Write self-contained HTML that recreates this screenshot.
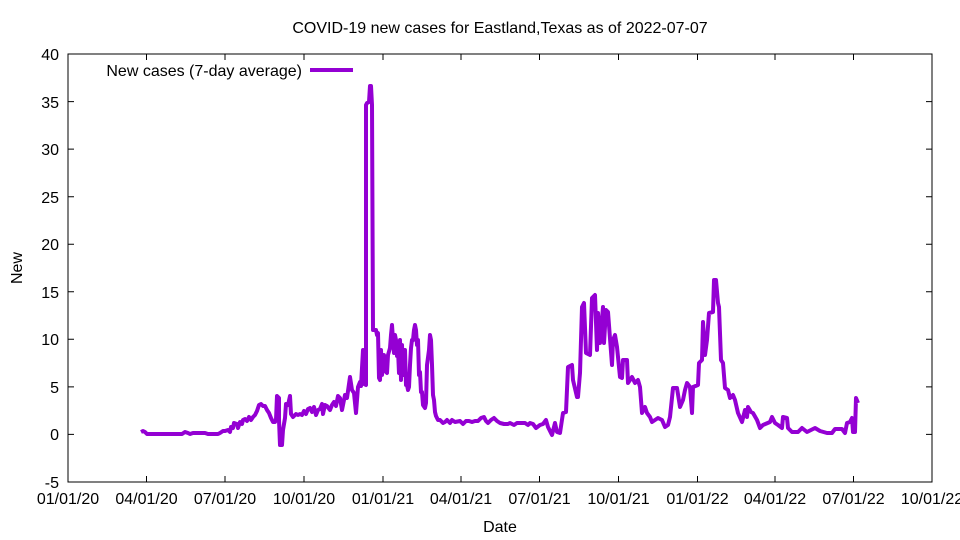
<!DOCTYPE html>
<html><head><meta charset="utf-8"><style>body{margin:0;background:#fff}svg{display:block}text{font-family:"Liberation Sans",sans-serif;font-size:16px;fill:#000}</style></head><body>
<svg width="960" height="540" viewBox="0 0 960 540">
<rect x="68" y="54" width="864" height="428" fill="none" stroke="#000" stroke-width="1"/>
<g stroke="#000" stroke-width="1">
<path d="M68 482h6M68 434.4h6M68 386.9h6M68 339.3h6M68 291.8h6M68 244.2h6M68 196.7h6M68 149.1h6M68 101.6h6M68 54h6"/>
<path d="M932 482h-6M932 434.4h-6M932 386.9h-6M932 339.3h-6M932 291.8h-6M932 244.2h-6M932 196.7h-6M932 149.1h-6M932 101.6h-6"/>
<path d="M146.5 482v-6M225 482v-6M304 482v-6M383 482v-6M461 482v-6M539.5 482v-6M618.5 482v-6M697.5 482v-6M775 482v-6M853.5 482v-6"/>
<path d="M146.5 54v6M225 54v6M304 54v6M383 54v6M461 54v6M539.5 54v6M618.5 54v6M697.5 54v6M775 54v6M853.5 54v6"/>
</g>
<g text-anchor="end">
<text x="59" y="488">-5</text><text x="59" y="440">0</text><text x="59" y="393">5</text><text x="59" y="345">10</text><text x="59" y="298">15</text><text x="59" y="250">20</text><text x="59" y="203">25</text><text x="59" y="155">30</text><text x="59" y="108">35</text><text x="59" y="60">40</text>
</g>
<g text-anchor="middle">
<text x="68" y="504">01/01/20</text><text x="146.5" y="504">04/01/20</text><text x="225" y="504">07/01/20</text><text x="304" y="504">10/01/20</text><text x="383" y="504">01/01/21</text><text x="461" y="504">04/01/21</text><text x="539.5" y="504">07/01/21</text><text x="618.5" y="504">10/01/21</text><text x="697.5" y="504">01/01/22</text><text x="775" y="504">04/01/22</text><text x="853.5" y="504">07/01/22</text><text x="932" y="504">10/01/22</text>
<text x="500" y="532">Date</text>
<text x="500" y="33">COVID-19 new cases for Eastland,Texas as of 2022-07-07</text>
</g>
<text x="22" y="268" text-anchor="middle" transform="rotate(-90 22 268)">New</text>
<text x="302" y="76" text-anchor="end">New cases (7-day average)</text>
<g fill="none" stroke="#9400d3" stroke-width="4" stroke-linejoin="round">
<path d="M310 70H353"/>
<polyline points="141,432 143,431 145,432 147,434 150,434 182,434 185,432 188,433 190,434 193,433 205,433 208,434 218,434 220,433 223,431 225,431 228,430 230,432 231,427 233,428 234,423 237,424 238,428 240,422 242,424 243,420 245,419 247,421 249,417 251,420 253,417 255,415 257,411 259,405 261,404 263,406 265,406 267,410 269,413 271,418 273,422 275,422 276,420 277,396 279,398 279,420 280,445 282,445 283,430 284,424 285,418 286,404 288,405 290,396 291,414 293,417 296,414 298,415 300,414 302,415 304,411 306,414 308,409 310,408 312,412 314,407 316,415 318,410 320,409 322,404 323,414 325,405 327,406 330,410 332,405 334,402 336,406 338,396 340,398 342,410 345,395 347,398 350,377 352,390 354,393 356,413 358,387 360,382 361,386 363,350 364,384 366,385 366,105 367,103 369,102 370,86 371,86 372,105 373,330 375,330 376,330 377,335 378,333 379,378 380,380 381,350 382,375 383,364 384,355 385,360 386,372 387,373 388,355 390,348 391,335 392,325 393,340 394,353 395,335 396,340 397,356 398,350 399,373 400,340 401,380 402,345 403,375 404,350 405,350 406,385 407,385 408,390 409,387 410,365 411,348 412,340 413,340 414,330 415,325 416,330 417,345 418,340 419,375 420,372 421,392 422,392 423,405 425,408 426,403 427,365 429,350 430,335 431,340 432,365 433,395 434,400 435,412 436,416 438,420 440,420 443,423 445,422 447,420 450,423 452,420 455,422 460,421 463,424 466,421 469,421 472,422 475,421 478,421 481,418 484,417 486,421 488,423 491,420 494,418 497,421 500,423 504,424 508,424 510,423 514,425 517,423 520,423 525,423 528,425 530,423 533,424 536,428 540,425 543,424 546,420 548,427 552,435 555,423 557,432 560,433 563,413 566,412 568,367 572,365 573,380 577,397 578,397 580,373 582,307 584,303 586,353 590,355 592,298 595,295 597,350 598,313 600,343 603,307 604,343 606,310 608,312 612,365 613,340 615,335 617,347 620,377 622,378 623,360 627,360 628,383 632,377 635,383 638,380 640,387 642,413 645,407 647,413 650,417 652,422 655,420 658,418 662,420 665,427 668,425 670,417 673,388 677,388 680,407 683,400 685,390 687,383 690,387 692,413 693,387 698,385 699,363 702,360 703,322 705,355 707,340 709,313 713,312 714,280 716,280 718,303 719,307 721,360 723,363 725,388 728,390 730,398 733,395 735,400 738,413 742,422 745,410 747,417 748,407 751,412 753,413 757,420 760,428 763,425 770,422 772,417 775,423 778,425 782,428 783,417 787,418 788,428 792,432 798,432 802,428 807,432 815,428 820,431 827,433 832,433 835,429 842,429 845,433 847,423 850,422 852,418 853,432 855,432 856,398 858,403"/>
</g>
</svg>
</body></html>
